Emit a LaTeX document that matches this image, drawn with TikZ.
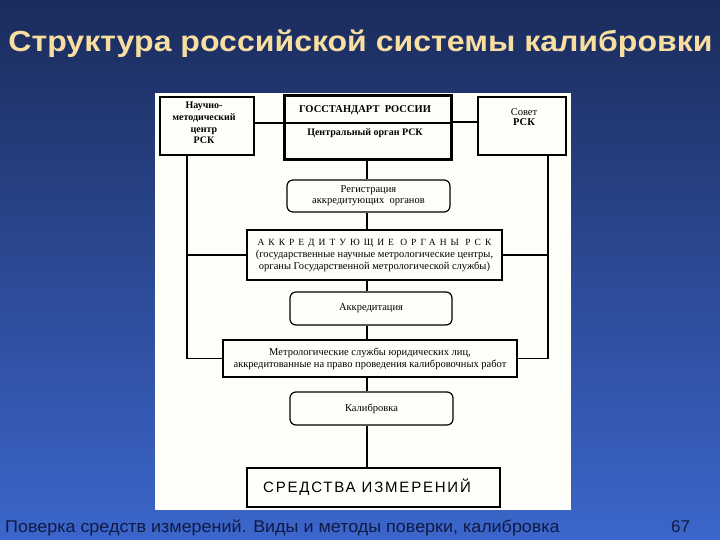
\documentclass[tikz,border=0pt]{standalone}
\usepackage{fontspec}
\setmainfont{Liberation Serif}
\newfontfamily\sansf{Liberation Sans}
\usetikzlibrary{calc}
\definecolor{bgtop}{RGB}{27,44,92}
\definecolor{bgbot}{RGB}{60,102,204}
\definecolor{titlecol}{RGB}{248,222,160}
\definecolor{footcol}{RGB}{16,26,66}
\definecolor{panelcol}{RGB}{255,255,250}
\tikzset{
  box/.style={draw=black, line width=1.2pt, fill=panelcol, align=center, inner sep=0pt, font=\fontsize{10.5}{12}\selectfont},
  rbox/.style={box, rounded corners=6pt},
  conn/.style={draw=black, line width=1.3pt},
  lbl/.style={align=center, inner sep=0pt},
}
\begin{document}
\begin{tikzpicture}[x=1pt,y=-1pt]
\useasboundingbox (0,0) rectangle (720,540);
\shade[top color=bgtop, bottom color=bgbot] (0,0) rectangle (720,540);
\fill[panelcol] (155,93) rectangle (571,510);
\node[font=\sansf\bfseries\fontsize{29}{32}\selectfont, text=titlecol] (title) at (360.5,43.5) {\scalebox{1.105}[1]{Структура российской системы калибровки}};
% top row
\node[box, minimum width=94pt, minimum height=58pt] (nmc) at (207,126) {};
\node[lbl, font=\bfseries\fontsize{10}{11.7}\selectfont] (nmct) at (204,123) {Научно-\\методический\\центр\\РСК};
\node[box, line width=3pt, minimum width=167pt, minimum height=64pt] (gos) at (367.5,128) {};
\node[lbl, font=\bfseries\fontsize{10.5}{12}\selectfont] (gost) at (365,110) {ГОССТАНДАРТ\ \ РОССИИ};
\node[lbl, font=\bfseries\fontsize{10}{12}\selectfont] (cent) at (365,133) {Центральный орган РСК};
\draw[line width=2pt] (gos.west |- 0,123) -- (gos.east |- 0,123);
\node[box, minimum width=88pt, minimum height=58pt] (sov) at (522,126) {};
\node[lbl, font=\fontsize{10.5}{10.5}\selectfont] (sovt) at (524,117) {Совет\\\textbf{РСК}};
% middle
\node[rbox, minimum width=163pt, minimum height=32pt, font=\fontsize{10.5}{11}\selectfont] (reg) at (368.5,196) {Регистрация\\аккредитующих\ \ органов};
\node[box, minimum width=255pt, minimum height=50pt, font=\fontsize{10.5}{12}\selectfont] (akk) at (374.5,255) {{\addfontfeature{LetterSpace=42}\fontsize{9.5}{12}\selectfont АККРЕДИТУЮЩИЕ ОРГАНЫ РСК}\\(государственные научные метрологические центры,\\органы Государственной метрологической службы)};
\node[rbox, minimum width=162pt, minimum height=33pt] (akr) at (371,308.5) {Аккредитация};
\node[box, minimum width=294pt, minimum height=37pt, font=\fontsize{10.5}{12}\selectfont] (met) at (370,358.5) {Метрологические службы юридических лиц,\\аккредитованные на право проведения калибровочных работ};
\node[rbox, minimum width=163pt, minimum height=33pt] (kal) at (371.5,408.5) {Калибровка};
\node[box, minimum width=253pt, minimum height=39pt] (sred) at (373.5,487.5) {};
\node[lbl, font=\sansf\fontsize{15}{17}\selectfont\addfontfeature{LetterSpace=12}] (sredt) at (367,487) {СРЕДСТВА ИЗМЕРЕНИЙ};
% connectors
\coordinate (lx) at (187,0);
\coordinate (rx) at (548,0);
\coordinate (cx) at (367,0);
\draw[conn] (nmc.east |- 0,123) -- (gos.west |- 0,123);
\draw[conn] (gos.east |- 0,122) -- (sov.west |- 0,122);
\draw[conn] (nmc.south -| lx) -- (lx |- met.west) -- (met.west);
\draw[conn] (lx |- akk.west) -- (akk.west);
\draw[conn] (sov.south -| rx) -- (rx |- met.east) -- (met.east);
\draw[conn] (rx |- akk.east) -- (akk.east);
\draw[conn] (gos.south -| cx) -- (reg.north -| cx);
\draw[conn] (reg.south -| cx) -- (akk.north -| cx);
\draw[conn] (akk.south -| cx) -- (akr.north -| cx);
\draw[conn] (akr.south -| cx) -- (met.north -| cx);
\draw[conn] (met.south -| cx) -- (kal.north -| cx);
\draw[conn] (kal.south -| cx) -- (sred.north -| cx);
% footer
\node[anchor=base west, inner sep=0pt, font=\sansf\fontsize{17}{19}\selectfont, text=footcol] (foot) at (5,532) {\scalebox{1.055}[1]{Поверка средств измерений. Виды и методы поверки, калибровка}};
\node[anchor=base west, inner sep=0pt, font=\sansf\fontsize{17}{19}\selectfont, text=footcol] (num) at (671,532) {67};
\end{tikzpicture}
\end{document}
